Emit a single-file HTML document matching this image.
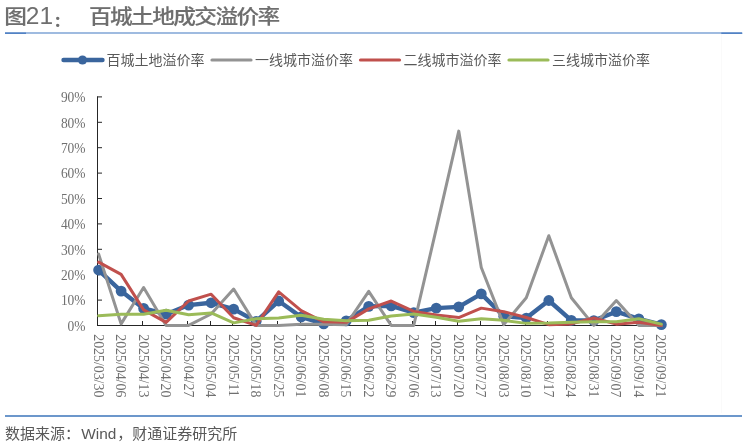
<!DOCTYPE html>
<html><head><meta charset="utf-8"><title>百城土地成交溢价率</title>
<style>
html,body{margin:0;padding:0;background:#fff;}
body{width:748px;height:446px;overflow:hidden;}
svg{display:block;will-change:transform;}
.t{font-family:"Liberation Sans","Noto Sans CJK SC",sans-serif;font-size:21px;font-weight:500;fill:#6e6e6e;stroke:#6e6e6e;stroke-width:0.15px;}
.td{font-family:"Liberation Sans",sans-serif;font-size:24.5px;fill:#6e6e6e;}
.tc{font-family:"Liberation Sans","Noto Sans CJK SC",sans-serif;font-size:14px;font-weight:700;fill:#6e6e6e;stroke:#6e6e6e;stroke-width:0.7px;}
.lg{font-family:"Liberation Sans","Noto Sans CJK SC",sans-serif;font-size:14px;fill:#595959;}
.src{font-family:"Liberation Sans","Noto Sans CJK SC",sans-serif;font-size:15px;fill:#595959;}
.yl{font-family:"Liberation Serif","Noto Serif CJK SC",serif;font-size:15px;fill:#707070;}
.xl{font-family:"Liberation Serif","Noto Serif CJK SC",serif;font-size:14px;fill:#707070;}
</style></head><body>
<svg width="748" height="446" viewBox="0 0 748 446">
<rect x="721" y="34" width="1" height="379" fill="#fafafa"/>
<rect x="5" y="32" width="737" height="2" fill="#9fbbe0"/>
<rect x="5" y="32.5" width="21" height="1.5" fill="#5282c4"/>
<rect x="721.3" y="32.5" width="21" height="1.5" fill="#5282c4"/>
<rect x="5" y="415" width="737" height="2" fill="#6c97cb"/>
<text transform="translate(4.3,24.0) scale(1.08,0.96)" class="t">图</text>
<text x="25.8" y="24.4" class="td">21</text>
<text x="54.2" y="25.5" class="tc">：</text>
<text transform="translate(88.9,24.0) scale(1.08,0.96)" class="t" x="0.00 19.52 39.04 58.56 78.07 97.59 117.11 136.63 156.15">百城土地成交溢价率</text>
<line x1="63.5" y1="60" x2="102.5" y2="60" stroke="#3a659d" stroke-width="4.4" stroke-linecap="round"/>
<circle cx="82.5" cy="60" r="4.6" fill="#3a659d"/>
<text transform="translate(106.5,64.5) scale(1,0.95)" class="lg">百城土地溢价率</text>
<line x1="212.0" y1="60" x2="251.0" y2="60" stroke="#939393" stroke-width="3.2" stroke-linecap="round"/>
<text transform="translate(255.0,64.5) scale(1,0.95)" class="lg">一线城市溢价率</text>
<line x1="360.5" y1="60" x2="399.5" y2="60" stroke="#C0504D" stroke-width="3.2" stroke-linecap="round"/>
<text transform="translate(403.5,64.5) scale(1,0.95)" class="lg">二线城市溢价率</text>
<line x1="509.0" y1="60" x2="548.0" y2="60" stroke="#9BBB59" stroke-width="3.2" stroke-linecap="round"/>
<text transform="translate(552.0,64.5) scale(1,0.95)" class="lg">三线城市溢价率</text>
<text transform="translate(85.6,330.80) scale(0.9,1)" class="yl" text-anchor="end">0%</text>
<line x1="97" y1="325.50" x2="102" y2="325.50" stroke="#262626" stroke-width="1"/>
<text transform="translate(85.6,305.40) scale(0.9,1)" class="yl" text-anchor="end">10%</text>
<line x1="97" y1="300.10" x2="102" y2="300.10" stroke="#262626" stroke-width="1"/>
<text transform="translate(85.6,280.00) scale(0.9,1)" class="yl" text-anchor="end">20%</text>
<line x1="97" y1="274.70" x2="102" y2="274.70" stroke="#262626" stroke-width="1"/>
<text transform="translate(85.6,254.60) scale(0.9,1)" class="yl" text-anchor="end">30%</text>
<line x1="97" y1="249.30" x2="102" y2="249.30" stroke="#262626" stroke-width="1"/>
<text transform="translate(85.6,229.20) scale(0.9,1)" class="yl" text-anchor="end">40%</text>
<line x1="97" y1="223.90" x2="102" y2="223.90" stroke="#262626" stroke-width="1"/>
<text transform="translate(85.6,203.80) scale(0.9,1)" class="yl" text-anchor="end">50%</text>
<line x1="97" y1="198.50" x2="102" y2="198.50" stroke="#262626" stroke-width="1"/>
<text transform="translate(85.6,178.40) scale(0.9,1)" class="yl" text-anchor="end">60%</text>
<line x1="97" y1="173.10" x2="102" y2="173.10" stroke="#262626" stroke-width="1"/>
<text transform="translate(85.6,153.00) scale(0.9,1)" class="yl" text-anchor="end">70%</text>
<line x1="97" y1="147.70" x2="102" y2="147.70" stroke="#262626" stroke-width="1"/>
<text transform="translate(85.6,127.60) scale(0.9,1)" class="yl" text-anchor="end">80%</text>
<line x1="97" y1="122.30" x2="102" y2="122.30" stroke="#262626" stroke-width="1"/>
<text transform="translate(85.6,102.20) scale(0.9,1)" class="yl" text-anchor="end">90%</text>
<line x1="97" y1="96.90" x2="102" y2="96.90" stroke="#262626" stroke-width="1"/>
<line x1="97.5" y1="96.5" x2="97.5" y2="326" stroke="#262626" stroke-width="1"/>
<line x1="97" y1="325.5" x2="661" y2="325.5" stroke="#262626" stroke-width="1"/>
<line x1="97.50" y1="325" x2="97.50" y2="321" stroke="#262626" stroke-width="1"/>
<line x1="120.50" y1="325" x2="120.50" y2="321" stroke="#262626" stroke-width="1"/>
<line x1="142.50" y1="325" x2="142.50" y2="321" stroke="#262626" stroke-width="1"/>
<line x1="165.50" y1="325" x2="165.50" y2="321" stroke="#262626" stroke-width="1"/>
<line x1="187.50" y1="325" x2="187.50" y2="321" stroke="#262626" stroke-width="1"/>
<line x1="210.50" y1="325" x2="210.50" y2="321" stroke="#262626" stroke-width="1"/>
<line x1="232.50" y1="325" x2="232.50" y2="321" stroke="#262626" stroke-width="1"/>
<line x1="255.50" y1="325" x2="255.50" y2="321" stroke="#262626" stroke-width="1"/>
<line x1="277.50" y1="325" x2="277.50" y2="321" stroke="#262626" stroke-width="1"/>
<line x1="300.50" y1="325" x2="300.50" y2="321" stroke="#262626" stroke-width="1"/>
<line x1="322.50" y1="325" x2="322.50" y2="321" stroke="#262626" stroke-width="1"/>
<line x1="345.50" y1="325" x2="345.50" y2="321" stroke="#262626" stroke-width="1"/>
<line x1="367.50" y1="325" x2="367.50" y2="321" stroke="#262626" stroke-width="1"/>
<line x1="390.50" y1="325" x2="390.50" y2="321" stroke="#262626" stroke-width="1"/>
<line x1="412.50" y1="325" x2="412.50" y2="321" stroke="#262626" stroke-width="1"/>
<line x1="435.50" y1="325" x2="435.50" y2="321" stroke="#262626" stroke-width="1"/>
<line x1="457.50" y1="325" x2="457.50" y2="321" stroke="#262626" stroke-width="1"/>
<line x1="480.50" y1="325" x2="480.50" y2="321" stroke="#262626" stroke-width="1"/>
<line x1="502.50" y1="325" x2="502.50" y2="321" stroke="#262626" stroke-width="1"/>
<line x1="525.50" y1="325" x2="525.50" y2="321" stroke="#262626" stroke-width="1"/>
<line x1="547.50" y1="325" x2="547.50" y2="321" stroke="#262626" stroke-width="1"/>
<line x1="570.50" y1="325" x2="570.50" y2="321" stroke="#262626" stroke-width="1"/>
<line x1="592.50" y1="325" x2="592.50" y2="321" stroke="#262626" stroke-width="1"/>
<line x1="615.50" y1="325" x2="615.50" y2="321" stroke="#262626" stroke-width="1"/>
<line x1="637.50" y1="325" x2="637.50" y2="321" stroke="#262626" stroke-width="1"/>
<line x1="660.50" y1="325" x2="660.50" y2="321" stroke="#262626" stroke-width="1"/>
<text transform="translate(93.70,334.2) rotate(90) scale(0.99,1)" class="xl">2025/03/30</text>
<text transform="translate(116.21,334.2) rotate(90) scale(0.99,1)" class="xl">2025/04/06</text>
<text transform="translate(138.72,334.2) rotate(90) scale(0.99,1)" class="xl">2025/04/13</text>
<text transform="translate(161.23,334.2) rotate(90) scale(0.99,1)" class="xl">2025/04/20</text>
<text transform="translate(183.74,334.2) rotate(90) scale(0.99,1)" class="xl">2025/04/27</text>
<text transform="translate(206.25,334.2) rotate(90) scale(0.99,1)" class="xl">2025/05/04</text>
<text transform="translate(228.76,334.2) rotate(90) scale(0.99,1)" class="xl">2025/05/11</text>
<text transform="translate(251.27,334.2) rotate(90) scale(0.99,1)" class="xl">2025/05/18</text>
<text transform="translate(273.78,334.2) rotate(90) scale(0.99,1)" class="xl">2025/05/25</text>
<text transform="translate(296.29,334.2) rotate(90) scale(0.99,1)" class="xl">2025/06/01</text>
<text transform="translate(318.80,334.2) rotate(90) scale(0.99,1)" class="xl">2025/06/08</text>
<text transform="translate(341.31,334.2) rotate(90) scale(0.99,1)" class="xl">2025/06/15</text>
<text transform="translate(363.82,334.2) rotate(90) scale(0.99,1)" class="xl">2025/06/22</text>
<text transform="translate(386.33,334.2) rotate(90) scale(0.99,1)" class="xl">2025/06/29</text>
<text transform="translate(408.84,334.2) rotate(90) scale(0.99,1)" class="xl">2025/07/06</text>
<text transform="translate(431.35,334.2) rotate(90) scale(0.99,1)" class="xl">2025/07/13</text>
<text transform="translate(453.86,334.2) rotate(90) scale(0.99,1)" class="xl">2025/07/20</text>
<text transform="translate(476.37,334.2) rotate(90) scale(0.99,1)" class="xl">2025/07/27</text>
<text transform="translate(498.88,334.2) rotate(90) scale(0.99,1)" class="xl">2025/08/03</text>
<text transform="translate(521.39,334.2) rotate(90) scale(0.99,1)" class="xl">2025/08/10</text>
<text transform="translate(543.90,334.2) rotate(90) scale(0.99,1)" class="xl">2025/08/17</text>
<text transform="translate(566.41,334.2) rotate(90) scale(0.99,1)" class="xl">2025/08/24</text>
<text transform="translate(588.92,334.2) rotate(90) scale(0.99,1)" class="xl">2025/08/31</text>
<text transform="translate(611.43,334.2) rotate(90) scale(0.99,1)" class="xl">2025/09/07</text>
<text transform="translate(633.94,334.2) rotate(90) scale(0.99,1)" class="xl">2025/09/14</text>
<text transform="translate(656.45,334.2) rotate(90) scale(0.99,1)" class="xl">2025/09/21</text>
<polyline points="98.60,270.03 121.11,291.11 143.62,308.38 166.13,314.22 188.64,305.08 211.15,302.79 233.66,309.14 256.17,321.34 278.68,301.02 301.19,317.02 323.70,323.88 346.21,320.83 368.72,306.35 391.23,305.84 413.74,312.70 436.25,308.13 458.76,306.86 481.27,293.90 503.78,316.26 526.29,318.03 548.80,300.51 571.31,320.32 593.82,320.57 616.33,311.68 638.84,318.80 661.35,324.64" fill="none" stroke="#3a659d" stroke-width="4.4" stroke-linejoin="round" stroke-linecap="round"/>
<circle cx="98.60" cy="270.03" r="5.4" fill="#3a659d"/>
<circle cx="121.11" cy="291.11" r="5.4" fill="#3a659d"/>
<circle cx="143.62" cy="308.38" r="5.4" fill="#3a659d"/>
<circle cx="166.13" cy="314.22" r="5.4" fill="#3a659d"/>
<circle cx="188.64" cy="305.08" r="5.4" fill="#3a659d"/>
<circle cx="211.15" cy="302.79" r="5.4" fill="#3a659d"/>
<circle cx="233.66" cy="309.14" r="5.4" fill="#3a659d"/>
<circle cx="256.17" cy="321.34" r="5.4" fill="#3a659d"/>
<circle cx="278.68" cy="301.02" r="5.4" fill="#3a659d"/>
<circle cx="301.19" cy="317.02" r="5.4" fill="#3a659d"/>
<circle cx="323.70" cy="323.88" r="5.4" fill="#3a659d"/>
<circle cx="346.21" cy="320.83" r="5.4" fill="#3a659d"/>
<circle cx="368.72" cy="306.35" r="5.4" fill="#3a659d"/>
<circle cx="391.23" cy="305.84" r="5.4" fill="#3a659d"/>
<circle cx="413.74" cy="312.70" r="5.4" fill="#3a659d"/>
<circle cx="436.25" cy="308.13" r="5.4" fill="#3a659d"/>
<circle cx="458.76" cy="306.86" r="5.4" fill="#3a659d"/>
<circle cx="481.27" cy="293.90" r="5.4" fill="#3a659d"/>
<circle cx="503.78" cy="316.26" r="5.4" fill="#3a659d"/>
<circle cx="526.29" cy="318.03" r="5.4" fill="#3a659d"/>
<circle cx="548.80" cy="300.51" r="5.4" fill="#3a659d"/>
<circle cx="571.31" cy="320.32" r="5.4" fill="#3a659d"/>
<circle cx="593.82" cy="320.57" r="5.4" fill="#3a659d"/>
<circle cx="616.33" cy="311.68" r="5.4" fill="#3a659d"/>
<circle cx="638.84" cy="318.80" r="5.4" fill="#3a659d"/>
<circle cx="661.35" cy="324.64" r="5.4" fill="#3a659d"/>
<polyline points="98.60,254.03 121.11,323.88 143.62,287.55 166.13,325.40 188.64,325.40 211.15,313.97 233.66,289.08 256.17,325.40 278.68,325.40 301.19,324.13 323.70,324.13 346.21,324.64 368.72,291.36 391.23,325.40 413.74,325.40 436.25,228.88 458.76,131.09 481.27,267.49 503.78,324.64 526.29,297.71 548.80,235.74 571.31,297.71 593.82,325.40 616.33,300.51 638.84,325.40 661.35,325.40" fill="none" stroke="#939393" stroke-width="3" stroke-linejoin="round" stroke-linecap="round"/>
<polyline points="98.60,262.15 121.11,274.35 143.62,309.91 166.13,322.35 188.64,301.02 211.15,294.16 233.66,317.78 256.17,325.40 278.68,291.87 301.19,310.67 323.70,321.84 346.21,322.35 368.72,308.89 391.23,301.02 413.74,311.43 436.25,314.99 458.76,317.53 481.27,308.13 503.78,311.68 526.29,317.53 548.80,324.64 571.31,323.88 593.82,318.03 616.33,324.13 638.84,322.35 661.35,325.40" fill="none" stroke="#C0504D" stroke-width="3" stroke-linejoin="round" stroke-linecap="round"/>
<polyline points="98.60,315.75 121.11,314.22 143.62,314.22 166.13,310.16 188.64,314.73 211.15,312.95 233.66,322.86 256.17,318.80 278.68,318.03 301.19,315.24 323.70,319.30 346.21,320.83 368.72,320.32 391.23,316.00 413.74,313.97 436.25,317.27 458.76,321.34 481.27,318.80 503.78,320.32 526.29,323.37 548.80,323.11 571.31,322.35 593.82,321.84 616.33,321.84 638.84,318.80 661.35,324.13" fill="none" stroke="#9BBB59" stroke-width="3" stroke-linejoin="round" stroke-linecap="round"/>
<text y="438.6" class="src"><tspan x="5">数据来源：</tspan><tspan x="81.2" style="font-size:15.4px">Wind</tspan><tspan x="117.3">，财通证券研究所</tspan></text>
</svg>
</body></html>
